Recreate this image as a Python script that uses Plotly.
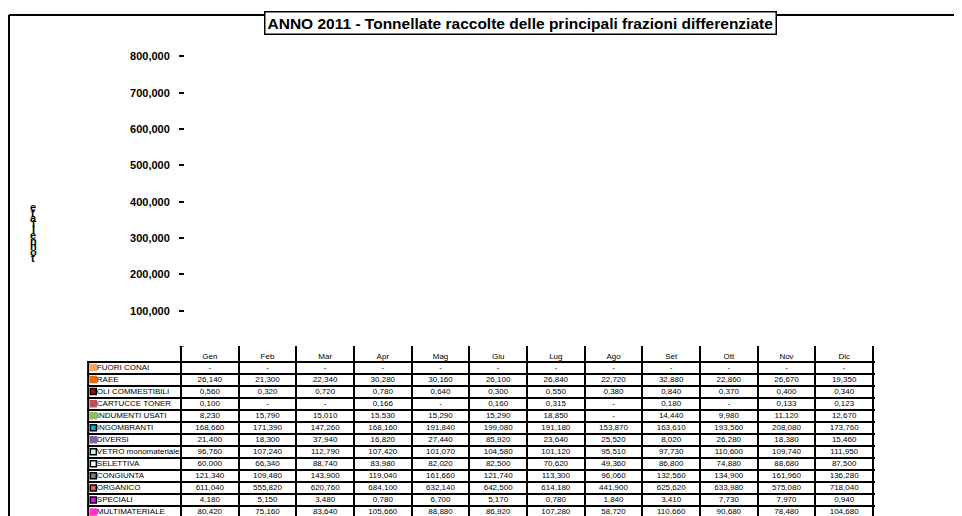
import plotly.graph_objects as go

months = ["Gen", "Feb", "Mar", "Apr", "Mag", "Giu", "Lug", "Ago", "Set", "Ott", "Nov", "Dic"]

series_names = ["FUORI CONAI", "RAEE", "OLI COMMESTIBILI", "CARTUCCE TONER", "INDUMENTI USATI",
                "INGOMBRANTI", "DIVERSI", "VETRO monomateriale", "SELETTIVA", "CONGIUNTA",
                "ORGANICO", "SPECIALI", "MULTIMATERIALE"]

fuori_conai = [None] * 12
raee = [26.140, 21.300, 22.340, 30.280, 30.160, 26.100, 26.840, 22.720, 32.880, 22.860, 26.670, 19.350]
oli_commestibili = [0.560, 0.320, 0.720, 0.780, 0.640, 0.300, 0.550, 0.380, 0.840, 0.370, 0.400, 0.340]
cartucce_toner = [0.100, None, None, 0.166, None, 0.160, 0.315, None, 0.180, None, 0.133, 0.123]
indumenti_usati = [8.230, 15.790, 15.010, 15.530, 15.290, 15.290, 18.850, None, 14.440, 9.980, 11.120, 12.670]
ingombranti = [168.660, 171.390, 147.260, 168.160, 191.840, 199.080, 191.180, 153.870, 163.610, 193.560, 208.080, 173.760]
diversi = [21.400, 18.300, 37.940, 16.820, 27.440, 85.920, 23.640, 25.520, 8.020, 26.280, 18.380, 15.460]
vetro = [96.760, 107.240, 112.790, 107.420, 101.070, 104.580, 101.120, 95.510, 97.730, 110.600, 109.740, 111.950]
selettiva = [60.000, 66.340, 88.740, 83.980, 82.020, 82.500, 70.620, 49.360, 86.800, 74.880, 88.680, 87.500]
congiunta = [121.340, 109.480, 143.900, 119.040, 161.660, 121.740, 113.300, 96.060, 132.560, 134.900, 161.960, 136.280]
organico = [611.040, 555.820, 620.760, 684.100, 632.140, 642.500, 614.180, 441.900, 625.620, 633.980, 575.080, 718.040]
speciali = [4.180, 5.150, 3.480, 0.780, 6.700, 5.170, 0.780, 1.840, 3.410, 7.730, 7.970, 0.940]
multimateriale = [80.420, 75.160, 83.640, 105.660, 88.880, 86.920, 107.280, 58.720, 110.660, 90.680, 78.480, 104.680]

series_values = [fuori_conai, raee, oli_commestibili, cartucce_toner, indumenti_usati, ingombranti,
                 diversi, vetro, selettiva, congiunta, organico, speciali, multimateriale]

y_tick_vals = [0, 100000, 200000, 300000, 400000, 500000, 600000, 700000, 800000]
y_tick_text = ["-", "100,000", "200,000", "300,000", "400,000", "500,000", "600,000", "700,000", "800,000"]

title_text = "ANNO 2011 - Tonnellate raccolte delle principali frazioni differenziate"
y_title = "tonnellate"

# styles
fill_colors = ["#F9A55A", "#E36C0A", "#C00000", "#C0504D", "#9BBB59", "#00B0F0", "#8064A2",
               "#CCFFCC", "#FFFFFF", "#808080", "#E65C5C", "#FF00FF", "#FF33CC"]
edge_colors = ["#F9A55A", "#E36C0A", "#000000", "#C0504D", "#9BBB59", "#000000", "#8064A2",
               "#000000", "#000000", "#000000", "#000000", "#000000", "#FF33CC"]

# layout helpers: convert target picture pixels to paper fractions
OFF = 8
W, H = 954, 516
VS, VC = 0.973, 6.0


def sx(px):
    return (px - OFF) / W


def sy(py):
    fy = (py - VC) / VS - OFF
    return 1 - fy / H


col_px = (873 - 181) / 12.0
name_w = (181 - 87) / col_px
n_rows = len(series_names)
ROW0, ROWH = 366.0, 12.0  # centre of first table row and row height (picture px)


def fmt(v):
    if v is None or v == 0:
        return "-"
    return f"{v:.3f}".replace(".", ",")


fig = go.Figure()

# stacked bars (main chart) - in the original they do not show at this axis scale
for name, vals, fc, ec in zip(series_names, series_values, fill_colors, edge_colors):
    fig.add_trace(go.Bar(x=months, y=[v if v is not None else 0 for v in vals], name=name,
                         marker=dict(color=fc, line=dict(color=ec, width=0)), opacity=0,
                         showlegend=False, xaxis="x", yaxis="y"))

# data table as a second subplot
cx, cy, ct = [], [], []
for i, vals in enumerate(series_values):
    for j, v in enumerate(vals):
        cx.append(j)
        cy.append(i)
        ct.append(fmt(v))
tfont = dict(family="Liberation Sans, Arial", size=8, color="#000000")
fig.add_trace(go.Scatter(x=cx, y=cy, text=ct, mode="text", textposition="middle center",
                         textfont=tfont, showlegend=False, hoverinfo="skip",
                         xaxis="x2", yaxis="y2", cliponaxis=False))
# header months
fig.add_trace(go.Scatter(x=list(range(12)), y=[(355 - ROW0) / ROWH] * 12, text=months,
                         mode="text", textposition="middle center", textfont=tfont,
                         showlegend=False, hoverinfo="skip", xaxis="x2", yaxis="y2",
                         cliponaxis=False))
# series names
x_name = -0.5 - name_w
fig.add_trace(go.Scatter(x=[x_name + 0.17] * n_rows, y=list(range(n_rows)),
                         text=series_names, mode="text", textposition="middle right",
                         textfont=tfont, showlegend=False, hoverinfo="skip",
                         xaxis="x2", yaxis="y2", cliponaxis=False))
# swatches
fig.add_trace(go.Scatter(x=[x_name + 0.11] * n_rows, y=list(range(n_rows)),
                         mode="markers",
                         marker=dict(symbol="square", size=6, color=fill_colors,
                                     line=dict(color=edge_colors, width=1.5)),
                         showlegend=False, hoverinfo="skip", xaxis="x2", yaxis="y2"))

fig.update_layout(
    width=W, height=H,
    margin=dict(l=0, r=0, t=0, b=0),
    paper_bgcolor="white", plot_bgcolor="white",
    barmode="stack", bargap=0.4,
    font=dict(family="Liberation Sans, Arial", color="#000000"),
    xaxis=dict(domain=[sx(181), sx(873)], type="category", categoryorder="array",
               categoryarray=months, range=[-0.5, 11.5], showticklabels=False,
               showgrid=False, zeroline=False, showline=False, ticks="", anchor="y"),
    yaxis=dict(domain=[sy(345.5), sy(56)], range=[0, 800000],
               tickvals=y_tick_vals, ticktext=y_tick_text, ticks="outside", ticklen=4.5,
               tickwidth=2, tickcolor="#000000", showgrid=False, zeroline=False,
               showline=False, anchor="free", position=sx(183.5), ticklabelstandoff=7,
               tickfont=dict(family="Liberation Sans, Arial", size=11, color="#000000",
                             weight="bold")),
    xaxis2=dict(domain=[sx(87), sx(875)], range=[x_name, 11.5 + 2 / col_px],
                tickvals=[j - 0.5 for j in range(13)], showgrid=True, gridcolor="#000000",
                gridwidth=2, showticklabels=False, zeroline=False, showline=False, ticks="",
                anchor="y2"),
    yaxis2=dict(domain=[0, sy(345)],
                range=[(516 - ROW0) / ROWH, (345 - ROW0) / ROWH],
                tickvals=[i - 0.5 for i in range(n_rows + 1)], showgrid=True,
                gridcolor="#000000", gridwidth=1.5, showticklabels=False, zeroline=False,
                showline=False, ticks="", anchor="x2"),
)

# left border of the name column
fig.add_shape(type="line", xref="x2", yref="y2", x0=x_name + 0.02, x1=x_name + 0.02,
              y0=-0.5, y1=n_rows - 0.5, line=dict(color="#000000", width=2))

# outer frame (top and left)
fig.add_shape(type="line", xref="paper", yref="paper", x0=0.001, x1=1, y0=0.998,
              y1=0.998, line=dict(color="#000000", width=2))
fig.add_shape(type="line", xref="paper", yref="paper", x0=0.001, x1=0.001, y0=0,
              y1=0.998, line=dict(color="#000000", width=2))

# title
fig.add_annotation(text="<b>" + title_text + "</b>", xref="paper", yref="paper",
                   x=sx(520), y=sy(22.5), xanchor="center", yanchor="middle", showarrow=False,
                   font=dict(family="Liberation Sans Narrow, Arial Narrow, Liberation Sans",
                             size=15.5, color="#000000"),
                   bordercolor="#000000", borderwidth=1.5, borderpad=2, bgcolor="white")

# stacked y-axis title (letters overlapping as in the original)
for k, ch in enumerate(reversed(y_title)):
    fig.add_annotation(text="<b>" + ch + "</b>", xref="paper", yref="paper",
                       x=sx(33), y=sy(206 + 5.6 * k), xanchor="center", yanchor="middle",
                       showarrow=False,
                       font=dict(family="Liberation Sans, Arial", size=11, color="#000000"))

fig.write_html("out.html")
